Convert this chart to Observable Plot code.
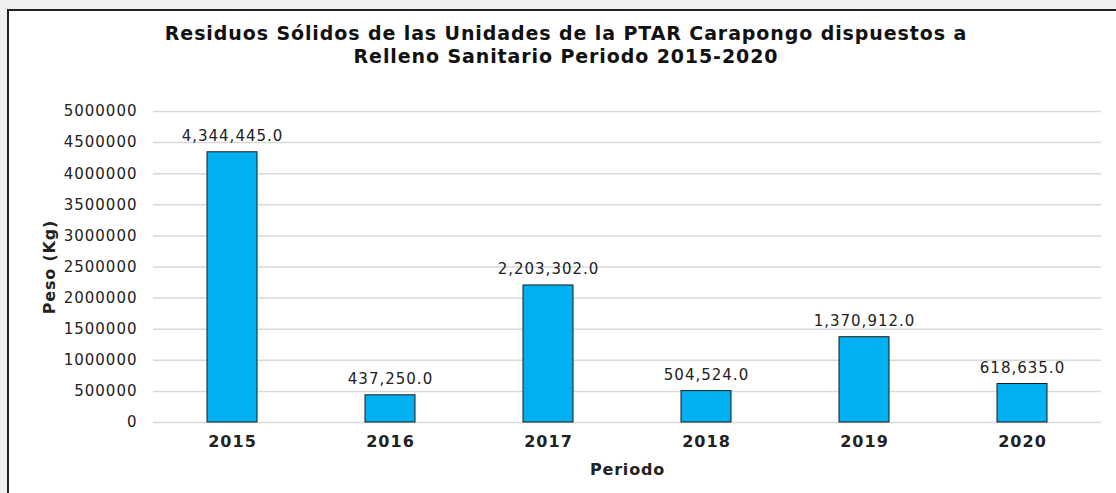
<!DOCTYPE html>
<html>
<head>
<meta charset="utf-8">
<script src="https://cdn.jsdelivr.net/npm/d3@7"></script>
<script src="https://cdn.jsdelivr.net/npm/@observablehq/plot@0.6"></script>
<style>
  html, body { margin: 0; padding: 0; background: #f0f0f0; width: 1116px; height: 493px; overflow: hidden; }
  #frame { position: absolute; left: 7px; top: 9px; width: 1120px; height: 500px; background: #fff; border-left: 2px solid #222; border-top: 2px solid #222; box-sizing: border-box; }
  #title { position: absolute; left: 0; top: 22px; width: 1132px; text-align: center; font-family: "DejaVu Sans", Verdana, sans-serif; font-weight: bold; font-size: 19px; letter-spacing: 0.9px; line-height: 23px; color: #111; }
  #chart { position: absolute; left: 0; top: 0; }
</style>
</head>
<body>
<div id="frame"></div>
<div id="title">Residuos Sólidos de las Unidades de la PTAR Carapongo dispuestos a<br>Relleno Sanitario Periodo 2015-2020</div>
<div id="chart"></div>
<script>
const years = ["2015", "2016", "2017", "2018", "2019", "2020"];
const weights = [4344445.0, 437250.0, 2203302.0, 504524.0, 1370912.0, 618635.0];
const yTicks = [0, 500000, 1000000, 1500000, 2000000, 2500000, 3000000, 3500000, 4000000, 4500000, 5000000];

const data = years.map((y, i) => ({year: y, value: weights[i]}));
const fmt = d3.format(",.1f");

const chart = Plot.plot({
  width: 1116,
  height: 493,
  marginLeft: 153,
  marginRight: 15,
  marginTop: 111,
  marginBottom: 71,
  style: {fontFamily: "DejaVu Sans, Verdana, sans-serif", fontSize: "15px", color: "#222", background: "transparent"},
  x: {domain: years, paddingInner: 0.684, paddingOuter: 0.342, label: "Periodo"},
  y: {domain: [0, 5000000], ticks: yTicks, label: "Peso (Kg)"},
  marks: [
    Plot.gridY(yTicks, {stroke: "#d9d9d9", strokeOpacity: 1, strokeWidth: 1.5}),
    Plot.barY(data, {x: "year", y: "value", fill: "#00b0f0", stroke: "#1a1a1a", strokeWidth: 1}),
    Plot.text(data, {x: "year", y: "value", text: d => fmt(d.value), dy: -16, fontSize: 15, fill: "#222"}),
    Plot.axisY(yTicks, {tickSize: 0, tickPadding: 16, tickFormat: d => String(d), fontSize: 15, label: "Peso (Kg)", labelAnchor: "center", labelArrow: "none", labelOffset: 110}),
    Plot.axisX({tickSize: 0, tickPadding: 13, fontSize: 16, fontWeight: "bold", label: "Periodo", labelAnchor: "center", labelArrow: "none", labelOffset: 52})
  ]
});
document.getElementById("chart").appendChild(chart);
// widen letters to match the reference's stretched look
chart.querySelectorAll("[aria-label='y-axis tick label'] text, [aria-label='text'] text, [aria-label='x-axis tick label'] text").forEach(t => {
  t.setAttribute("letter-spacing", "1");
});
chart.querySelectorAll("[aria-label='y-axis label'] text, [aria-label='x-axis label'] text").forEach(t => {
  t.setAttribute("font-weight", "bold");
  t.setAttribute("font-size", "16");
  t.setAttribute("letter-spacing", "0.8");
});
</script>
</body>
</html>
